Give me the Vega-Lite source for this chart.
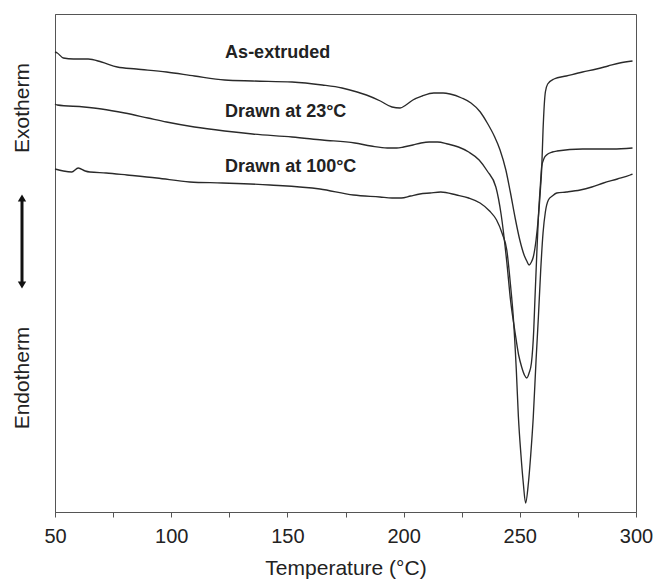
{
  "$schema": "https://vega.github.io/schema/vega-lite/v6.json",
  "width": 581,
  "height": 498,
  "autosize": {"type": "none"},
  "padding": {"left": 55, "top": 14, "right": 19, "bottom": 68},
  "background": "white",
  "config": {
    "font": "Liberation Sans",
    "view": {"stroke": "#555", "strokeWidth": 1}
  },
  "datasets": {
    "dsc": [
      {"sample": "As-extruded", "temp": 50, "signal": 460},
      {"sample": "As-extruded", "temp": 51, "signal": 459},
      {"sample": "As-extruded", "temp": 53.6, "signal": 454},
      {"sample": "As-extruded", "temp": 58, "signal": 453},
      {"sample": "As-extruded", "temp": 64.3, "signal": 453},
      {"sample": "As-extruded", "temp": 70, "signal": 450},
      {"sample": "As-extruded", "temp": 76.8, "signal": 445},
      {"sample": "As-extruded", "temp": 85, "signal": 443},
      {"sample": "As-extruded", "temp": 98, "signal": 440},
      {"sample": "As-extruded", "temp": 110, "signal": 436},
      {"sample": "As-extruded", "temp": 123, "signal": 432},
      {"sample": "As-extruded", "temp": 135, "signal": 431},
      {"sample": "As-extruded", "temp": 152, "signal": 430},
      {"sample": "As-extruded", "temp": 165, "signal": 427},
      {"sample": "As-extruded", "temp": 173.5, "signal": 424},
      {"sample": "As-extruded", "temp": 180, "signal": 420},
      {"sample": "As-extruded", "temp": 184, "signal": 417},
      {"sample": "As-extruded", "temp": 190, "signal": 411},
      {"sample": "As-extruded", "temp": 195, "signal": 405},
      {"sample": "As-extruded", "temp": 198.5, "signal": 404},
      {"sample": "As-extruded", "temp": 201, "signal": 407},
      {"sample": "As-extruded", "temp": 204, "signal": 412},
      {"sample": "As-extruded", "temp": 208, "signal": 416},
      {"sample": "As-extruded", "temp": 213, "signal": 419},
      {"sample": "As-extruded", "temp": 217, "signal": 419},
      {"sample": "As-extruded", "temp": 220, "signal": 418},
      {"sample": "As-extruded", "temp": 225, "signal": 414},
      {"sample": "As-extruded", "temp": 229, "signal": 409},
      {"sample": "As-extruded", "temp": 233, "signal": 400},
      {"sample": "As-extruded", "temp": 236, "signal": 389},
      {"sample": "As-extruded", "temp": 239, "signal": 376},
      {"sample": "As-extruded", "temp": 241.5, "signal": 362},
      {"sample": "As-extruded", "temp": 244, "signal": 342},
      {"sample": "As-extruded", "temp": 246, "signal": 319},
      {"sample": "As-extruded", "temp": 248, "signal": 294},
      {"sample": "As-extruded", "temp": 250, "signal": 272},
      {"sample": "As-extruded", "temp": 252, "signal": 256},
      {"sample": "As-extruded", "temp": 253, "signal": 251},
      {"sample": "As-extruded", "temp": 254, "signal": 247},
      {"sample": "As-extruded", "temp": 255, "signal": 250},
      {"sample": "As-extruded", "temp": 255.8, "signal": 255},
      {"sample": "As-extruded", "temp": 257, "signal": 272},
      {"sample": "As-extruded", "temp": 258, "signal": 295},
      {"sample": "As-extruded", "temp": 259, "signal": 327},
      {"sample": "As-extruded", "temp": 259.4, "signal": 342},
      {"sample": "As-extruded", "temp": 260, "signal": 382},
      {"sample": "As-extruded", "temp": 261, "signal": 420},
      {"sample": "As-extruded", "temp": 262, "signal": 428},
      {"sample": "As-extruded", "temp": 264.7, "signal": 433},
      {"sample": "As-extruded", "temp": 270, "signal": 436},
      {"sample": "As-extruded", "temp": 277, "signal": 440},
      {"sample": "As-extruded", "temp": 283, "signal": 443},
      {"sample": "As-extruded", "temp": 288, "signal": 446},
      {"sample": "As-extruded", "temp": 293, "signal": 449},
      {"sample": "As-extruded", "temp": 298.5, "signal": 451},

      {"sample": "Drawn at 23°C", "temp": 50, "signal": 408},
      {"sample": "Drawn at 23°C", "temp": 51, "signal": 407},
      {"sample": "Drawn at 23°C", "temp": 62.5, "signal": 405},
      {"sample": "Drawn at 23°C", "temp": 70, "signal": 403},
      {"sample": "Drawn at 23°C", "temp": 80, "signal": 399},
      {"sample": "Drawn at 23°C", "temp": 90, "signal": 394},
      {"sample": "Drawn at 23°C", "temp": 98, "signal": 390},
      {"sample": "Drawn at 23°C", "temp": 110, "signal": 385},
      {"sample": "Drawn at 23°C", "temp": 123, "signal": 381},
      {"sample": "Drawn at 23°C", "temp": 135, "signal": 378},
      {"sample": "Drawn at 23°C", "temp": 152, "signal": 375},
      {"sample": "Drawn at 23°C", "temp": 165, "signal": 372},
      {"sample": "Drawn at 23°C", "temp": 179, "signal": 369},
      {"sample": "Drawn at 23°C", "temp": 186, "signal": 366},
      {"sample": "Drawn at 23°C", "temp": 193, "signal": 364},
      {"sample": "Drawn at 23°C", "temp": 197, "signal": 364},
      {"sample": "Drawn at 23°C", "temp": 200, "signal": 365},
      {"sample": "Drawn at 23°C", "temp": 204, "signal": 367},
      {"sample": "Drawn at 23°C", "temp": 207.5, "signal": 369},
      {"sample": "Drawn at 23°C", "temp": 211, "signal": 370},
      {"sample": "Drawn at 23°C", "temp": 214.6, "signal": 370},
      {"sample": "Drawn at 23°C", "temp": 219, "signal": 368},
      {"sample": "Drawn at 23°C", "temp": 223.6, "signal": 365},
      {"sample": "Drawn at 23°C", "temp": 228, "signal": 360},
      {"sample": "Drawn at 23°C", "temp": 232.5, "signal": 352},
      {"sample": "Drawn at 23°C", "temp": 236, "signal": 341},
      {"sample": "Drawn at 23°C", "temp": 239.7, "signal": 325},
      {"sample": "Drawn at 23°C", "temp": 242, "signal": 297},
      {"sample": "Drawn at 23°C", "temp": 244.4, "signal": 250},
      {"sample": "Drawn at 23°C", "temp": 246, "signal": 212},
      {"sample": "Drawn at 23°C", "temp": 248, "signal": 179},
      {"sample": "Drawn at 23°C", "temp": 249.5, "signal": 157},
      {"sample": "Drawn at 23°C", "temp": 250.8, "signal": 145},
      {"sample": "Drawn at 23°C", "temp": 252, "signal": 137},
      {"sample": "Drawn at 23°C", "temp": 253, "signal": 134},
      {"sample": "Drawn at 23°C", "temp": 254, "signal": 139},
      {"sample": "Drawn at 23°C", "temp": 255, "signal": 149},
      {"sample": "Drawn at 23°C", "temp": 256, "signal": 182},
      {"sample": "Drawn at 23°C", "temp": 256.5, "signal": 212},
      {"sample": "Drawn at 23°C", "temp": 257.2, "signal": 252},
      {"sample": "Drawn at 23°C", "temp": 258, "signal": 295},
      {"sample": "Drawn at 23°C", "temp": 259, "signal": 332},
      {"sample": "Drawn at 23°C", "temp": 259.4, "signal": 345},
      {"sample": "Drawn at 23°C", "temp": 260.5, "signal": 354},
      {"sample": "Drawn at 23°C", "temp": 261.5, "signal": 357},
      {"sample": "Drawn at 23°C", "temp": 264, "signal": 360},
      {"sample": "Drawn at 23°C", "temp": 266, "signal": 361},
      {"sample": "Drawn at 23°C", "temp": 277, "signal": 363},
      {"sample": "Drawn at 23°C", "temp": 290, "signal": 363},
      {"sample": "Drawn at 23°C", "temp": 298.5, "signal": 364},

      {"sample": "Drawn at 100°C", "temp": 50, "signal": 343},
      {"sample": "Drawn at 100°C", "temp": 53.6, "signal": 341},
      {"sample": "Drawn at 100°C", "temp": 57.2, "signal": 340},
      {"sample": "Drawn at 100°C", "temp": 60, "signal": 344},
      {"sample": "Drawn at 100°C", "temp": 63, "signal": 341},
      {"sample": "Drawn at 100°C", "temp": 65, "signal": 340},
      {"sample": "Drawn at 100°C", "temp": 72, "signal": 339},
      {"sample": "Drawn at 100°C", "temp": 81, "signal": 337},
      {"sample": "Drawn at 100°C", "temp": 93.8, "signal": 334},
      {"sample": "Drawn at 100°C", "temp": 108, "signal": 330},
      {"sample": "Drawn at 100°C", "temp": 122, "signal": 329},
      {"sample": "Drawn at 100°C", "temp": 142.5, "signal": 327},
      {"sample": "Drawn at 100°C", "temp": 164, "signal": 323},
      {"sample": "Drawn at 100°C", "temp": 178.4, "signal": 317},
      {"sample": "Drawn at 100°C", "temp": 189.8, "signal": 315},
      {"sample": "Drawn at 100°C", "temp": 195, "signal": 314},
      {"sample": "Drawn at 100°C", "temp": 199, "signal": 314},
      {"sample": "Drawn at 100°C", "temp": 203, "signal": 316},
      {"sample": "Drawn at 100°C", "temp": 207, "signal": 318},
      {"sample": "Drawn at 100°C", "temp": 211.4, "signal": 319},
      {"sample": "Drawn at 100°C", "temp": 216, "signal": 320},
      {"sample": "Drawn at 100°C", "temp": 222.8, "signal": 317},
      {"sample": "Drawn at 100°C", "temp": 228, "signal": 314},
      {"sample": "Drawn at 100°C", "temp": 232.9, "signal": 309},
      {"sample": "Drawn at 100°C", "temp": 237, "signal": 301},
      {"sample": "Drawn at 100°C", "temp": 240, "signal": 292},
      {"sample": "Drawn at 100°C", "temp": 242.5, "signal": 278},
      {"sample": "Drawn at 100°C", "temp": 244.4, "signal": 262},
      {"sample": "Drawn at 100°C", "temp": 246, "signal": 227},
      {"sample": "Drawn at 100°C", "temp": 247.2, "signal": 195},
      {"sample": "Drawn at 100°C", "temp": 248.5, "signal": 142},
      {"sample": "Drawn at 100°C", "temp": 249.4, "signal": 95},
      {"sample": "Drawn at 100°C", "temp": 250.5, "signal": 57},
      {"sample": "Drawn at 100°C", "temp": 251.5, "signal": 29},
      {"sample": "Drawn at 100°C", "temp": 252.5, "signal": 9},
      {"sample": "Drawn at 100°C", "temp": 253.7, "signal": 29},
      {"sample": "Drawn at 100°C", "temp": 254.7, "signal": 57},
      {"sample": "Drawn at 100°C", "temp": 255.8, "signal": 95},
      {"sample": "Drawn at 100°C", "temp": 257, "signal": 152},
      {"sample": "Drawn at 100°C", "temp": 258, "signal": 195},
      {"sample": "Drawn at 100°C", "temp": 259, "signal": 242},
      {"sample": "Drawn at 100°C", "temp": 260, "signal": 279},
      {"sample": "Drawn at 100°C", "temp": 261, "signal": 300},
      {"sample": "Drawn at 100°C", "temp": 262.3, "signal": 312},
      {"sample": "Drawn at 100°C", "temp": 264, "signal": 316},
      {"sample": "Drawn at 100°C", "temp": 265.9, "signal": 319},
      {"sample": "Drawn at 100°C", "temp": 270, "signal": 320},
      {"sample": "Drawn at 100°C", "temp": 276, "signal": 322},
      {"sample": "Drawn at 100°C", "temp": 281, "signal": 325},
      {"sample": "Drawn at 100°C", "temp": 286, "signal": 329},
      {"sample": "Drawn at 100°C", "temp": 292, "signal": 333},
      {"sample": "Drawn at 100°C", "temp": 297.5, "signal": 337},
      {"sample": "Drawn at 100°C", "temp": 298.5, "signal": 338}
    ],
    "labels": [
      {"sample": "As-extruded", "temp": 123.2, "signal": 459},
      {"sample": "Drawn at 23°C", "temp": 123.2, "signal": 400.5},
      {"sample": "Drawn at 100°C", "temp": 123.2, "signal": 345}
    ],
    "sides": [
      {"side": "Exotherm", "temp": 36.2, "signal": 404},
      {"side": "Endotherm", "temp": 36.4, "signal": 134}
    ],
    "arrow": [
      {"temp": 35.8, "top": 314, "bottom": 227}
    ]
  },
  "layer": [
    {
      "data": {"name": "dsc"},
      "mark": {"type": "line", "color": "#2a2a2a", "strokeWidth": 1.35, "interpolate": "monotone"},
      "encoding": {
        "x": {
          "field": "temp", "type": "quantitative",
          "scale": {"domain": [50, 300], "nice": false, "zero": false},
          "axis": {
            "title": "Temperature (°C)",
            "values": [50, 75, 100, 125, 150, 175, 200, 225, 250, 275, 300],
            "labelExpr": "datum.value % 50 === 0 ? datum.label : ''",
            "grid": false,
            "tickSize": 5,
            "tickColor": "#555",
            "domainColor": "#555",
            "labelFontSize": 20,
            "labelColor": "#222",
            "labelPadding": 9,
            "labelFlush": false,
            "titleFontSize": 21,
            "titleFontWeight": "normal",
            "titleColor": "#222",
            "titlePadding": 11
          }
        },
        "y": {
          "field": "signal", "type": "quantitative",
          "scale": {"domain": [0, 498], "nice": false, "zero": false},
          "axis": {"title": null, "labels": false, "ticks": false, "grid": false, "domainColor": "#555"}
        },
        "detail": {"field": "sample"}
      }
    },
    {
      "data": {"name": "labels"},
      "mark": {"type": "text", "align": "left", "baseline": "middle", "fontSize": 18, "fontWeight": "bold", "color": "#222"},
      "encoding": {
        "x": {"field": "temp", "type": "quantitative"},
        "y": {"field": "signal", "type": "quantitative"},
        "text": {"field": "sample"}
      }
    },
    {
      "data": {"name": "sides"},
      "mark": {"type": "text", "angle": 270, "align": "center", "baseline": "middle", "fontSize": 21, "color": "#222"},
      "encoding": {
        "x": {"field": "temp", "type": "quantitative"},
        "y": {"field": "signal", "type": "quantitative"},
        "text": {"field": "side"}
      }
    },
    {
      "data": {"name": "arrow"},
      "mark": {"type": "rule", "color": "#111", "strokeWidth": 3},
      "encoding": {
        "x": {"field": "temp", "type": "quantitative"},
        "y": {"field": "top", "type": "quantitative"},
        "y2": {"field": "bottom"}
      }
    },
    {
      "data": {"name": "arrow"},
      "mark": {"type": "point", "shape": "triangle-up", "filled": true, "color": "#111", "size": 70, "opacity": 1},
      "encoding": {
        "x": {"field": "temp", "type": "quantitative"},
        "y": {"field": "top", "type": "quantitative"}
      }
    },
    {
      "data": {"name": "arrow"},
      "mark": {"type": "point", "shape": "triangle-down", "filled": true, "color": "#111", "size": 70, "opacity": 1},
      "encoding": {
        "x": {"field": "temp", "type": "quantitative"},
        "y": {"field": "bottom", "type": "quantitative"}
      }
    }
  ]
}
